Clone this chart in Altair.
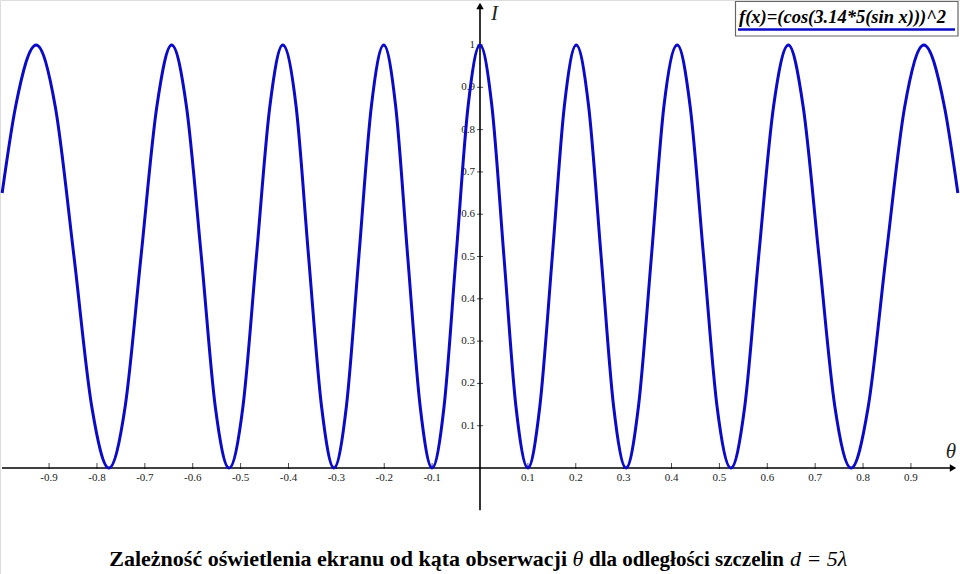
import altair as alt
import pandas as pd

# ---- data ----
theta = [-0.998, -0.970, -0.927, -0.887, -0.848, -0.811, -0.775, -0.741, -0.708, -0.675,
         -0.644, -0.613, -0.582, -0.553, -0.524, -0.495, -0.467, -0.439, -0.412, -0.384,
         -0.358, -0.331, -0.305, -0.279, -0.253, -0.227, -0.201, -0.176, -0.151, -0.125,
         -0.100, -0.075, -0.050, -0.025, 0.000,
         0.025, 0.050, 0.075, 0.100, 0.125, 0.151, 0.176, 0.201, 0.227, 0.253,
         0.279, 0.305, 0.331, 0.358, 0.384, 0.412, 0.439, 0.467, 0.495, 0.524,
         0.553, 0.582, 0.613, 0.644, 0.675, 0.708, 0.741, 0.775, 0.811, 0.848,
         0.887, 0.927, 0.970, 0.998]
intensity = [0.65, 0.854, 1.0, 0.854, 0.5, 0.146, 0.0, 0.146, 0.5, 0.854,
             1.0, 0.854, 0.5, 0.146, 0.0, 0.146, 0.5, 0.854, 1.0, 0.854,
             0.5, 0.146, 0.0, 0.146, 0.5, 0.854, 1.0, 0.854, 0.5, 0.146,
             0.0, 0.146, 0.5, 0.854, 1.0,
             0.854, 0.5, 0.146, 0.0, 0.146, 0.5, 0.854, 1.0, 0.854, 0.5,
             0.146, 0.0, 0.146, 0.5, 0.854, 1.0, 0.854, 0.5, 0.146, 0.0,
             0.146, 0.5, 0.854, 1.0, 0.854, 0.5, 0.146, 0.0, 0.146, 0.5,
             0.854, 1.0, 0.854, 0.65]

x_ticks = [-0.9, -0.8, -0.7, -0.6, -0.5, -0.4, -0.3, -0.2, -0.1,
           0.1, 0.2, 0.3, 0.4, 0.5, 0.6, 0.7, 0.8, 0.9]
x_tick_labels = ["-0.9", "-0.8", "-0.7", "-0.6", "-0.5", "-0.4", "-0.3", "-0.2", "-0.1",
                 "0.1", "0.2", "0.3", "0.4", "0.5", "0.6", "0.7", "0.8", "0.9"]
y_ticks = [0.1, 0.2, 0.3, 0.4, 0.5, 0.6, 0.7, 0.8, 0.9, 1.0]
y_tick_labels = ["0.1", "0.2", "0.3", "0.4", "0.5", "0.6", "0.7", "0.8", "0.9", "1"]

legend_text = "f(x)=(cos(3.14*5(sin x)))^2"
title_part1 = "Zależność oświetlenia ekranu od kąta obserwacji"
title_theta = "θ"
title_part2 = "dla odległości szczelin"
title_part3 = "d = 5λ"

# ---- scales ----
XS = alt.Scale(domain=[-1.0025, 1.0025], nice=False, zero=False)
YS = alt.Scale(domain=[-0.2506, 1.1064], nice=False, zero=False)
BLUE = "#0a0ac8"
SERIF = "'Times New Roman', 'Liberation Serif', serif"

curve_df = pd.DataFrame({"theta": theta, "I": intensity})
xt_df = pd.DataFrame({"v": x_ticks, "lab": x_tick_labels})
yt_df = pd.DataFrame({"v": y_ticks, "lab": y_tick_labels})
one = pd.DataFrame({"a": [0]})

curve = alt.Chart(curve_df).mark_line(color=BLUE, strokeWidth=3, interpolate="monotone").encode(
    x=alt.X("theta:Q", scale=XS, axis=None),
    y=alt.Y("I:Q", scale=YS, axis=None),
)

x_axis = alt.Chart(one).mark_rule(color="black", strokeWidth=1.6).encode(
    x=alt.value(2), x2=alt.value(951),
    y=alt.Y(datum=0, type="quantitative", scale=YS, axis=None),
)
x_arrow = alt.Chart(one).mark_point(shape="triangle-right", filled=True, color="black", size=55, opacity=1).encode(
    x=alt.value(953),
    y=alt.Y(datum=0, type="quantitative", scale=YS, axis=None),
)
x_tick_marks = alt.Chart(xt_df).mark_tick(orient="vertical", size=6, thickness=1, color="black", yOffset=-2).encode(
    x=alt.X("v:Q", scale=XS, axis=None),
    y=alt.Y(datum=0, type="quantitative", scale=YS, axis=None),
)
x_tick_text = alt.Chart(xt_df).mark_text(font=SERIF, fontSize=11, color="#222", baseline="top", dy=4).encode(
    x=alt.X("v:Q", scale=XS, axis=None),
    y=alt.Y(datum=0, type="quantitative", scale=YS, axis=None),
    text="lab:N",
)

y_axis = alt.Chart(one).mark_rule(color="black", strokeWidth=1.6).encode(
    x=alt.X(datum=0, type="quantitative", scale=XS, axis=None),
    y=alt.Y(datum=-0.1, type="quantitative", scale=YS, axis=None),
    y2=alt.value(6),
)
y_arrow = alt.Chart(one).mark_point(shape="triangle-up", filled=True, color="black", size=55, opacity=1).encode(
    x=alt.X(datum=0, type="quantitative", scale=XS, axis=None),
    y=alt.value(6),
)
y_tick_marks = alt.Chart(yt_df).mark_tick(orient="horizontal", size=6, thickness=1, color="black").encode(
    x=alt.X(datum=0, type="quantitative", scale=XS, axis=None),
    y=alt.Y("v:Q", scale=YS, axis=None),
)
y_tick_text = alt.Chart(yt_df).mark_text(font=SERIF, fontSize=11, color="#222", align="right", baseline="middle", dx=-5).encode(
    x=alt.X(datum=0, type="quantitative", scale=XS, axis=None),
    y=alt.Y("v:Q", scale=YS, axis=None),
    text="lab:N",
)

i_label = alt.Chart(one).mark_text(text="I", font=SERIF, fontSize=21, fontStyle="italic", color="#222", align="left", baseline="middle").encode(
    x=alt.value(491), y=alt.value(14))
th_label = alt.Chart(one).mark_text(text="θ", font=SERIF, fontSize=21, fontStyle="italic", color="#222", align="center", baseline="middle").encode(
    x=alt.value(951), y=alt.value(452))

leg_box = alt.Chart(one).mark_rect(fill="white", stroke="#666", strokeWidth=1.2).encode(
    x=alt.value(735.5), x2=alt.value(958), y=alt.value(1.5), y2=alt.value(36))
leg_text = alt.Chart(one).mark_text(text=legend_text, font=SERIF, fontSize=18.5, fontStyle="italic", fontWeight="bold",
                                    color="black", align="left", baseline="alphabetic").encode(
    x=alt.value(739), y=alt.value(23))
leg_line = alt.Chart(one).mark_rule(color=BLUE, strokeWidth=2.5).encode(
    x=alt.value(738), x2=alt.value(955), y=alt.value(29.5))

TB = 566
t1 = alt.Chart(one).mark_text(text=title_part1, font=SERIF, fontSize=22, fontWeight="bold", color="black",
                              align="right", baseline="alphabetic").encode(x=alt.value(567), y=alt.value(TB))
t2 = alt.Chart(one).mark_text(text=title_theta, font=SERIF, fontSize=22, fontStyle="italic", color="black",
                              align="center", baseline="alphabetic").encode(x=alt.value(578), y=alt.value(TB))
t3 = alt.Chart(one).mark_text(text=title_part2, font=SERIF, fontSize=21, fontWeight="bold", color="black",
                              align="left", baseline="alphabetic").encode(x=alt.value(589), y=alt.value(TB))
t4 = alt.Chart(one).mark_text(text=title_part3, font=SERIF, fontSize=22, fontStyle="italic", color="black",
                              align="left", baseline="alphabetic").encode(x=alt.value(790), y=alt.value(TB))

chart = alt.layer(
    x_axis, y_axis, x_tick_marks, y_tick_marks, x_tick_text, y_tick_text,
    curve, x_arrow, y_arrow, i_label, th_label,
    leg_box, leg_text, leg_line, t1, t2, t3, t4,
).properties(
    width=960, height=574, padding=0, autosize=alt.AutoSizeParams(type="none"),
).configure_view(stroke=None).configure(background="white")

chart.save("out.html", embed_options={"renderer": "svg", "actions": False})
